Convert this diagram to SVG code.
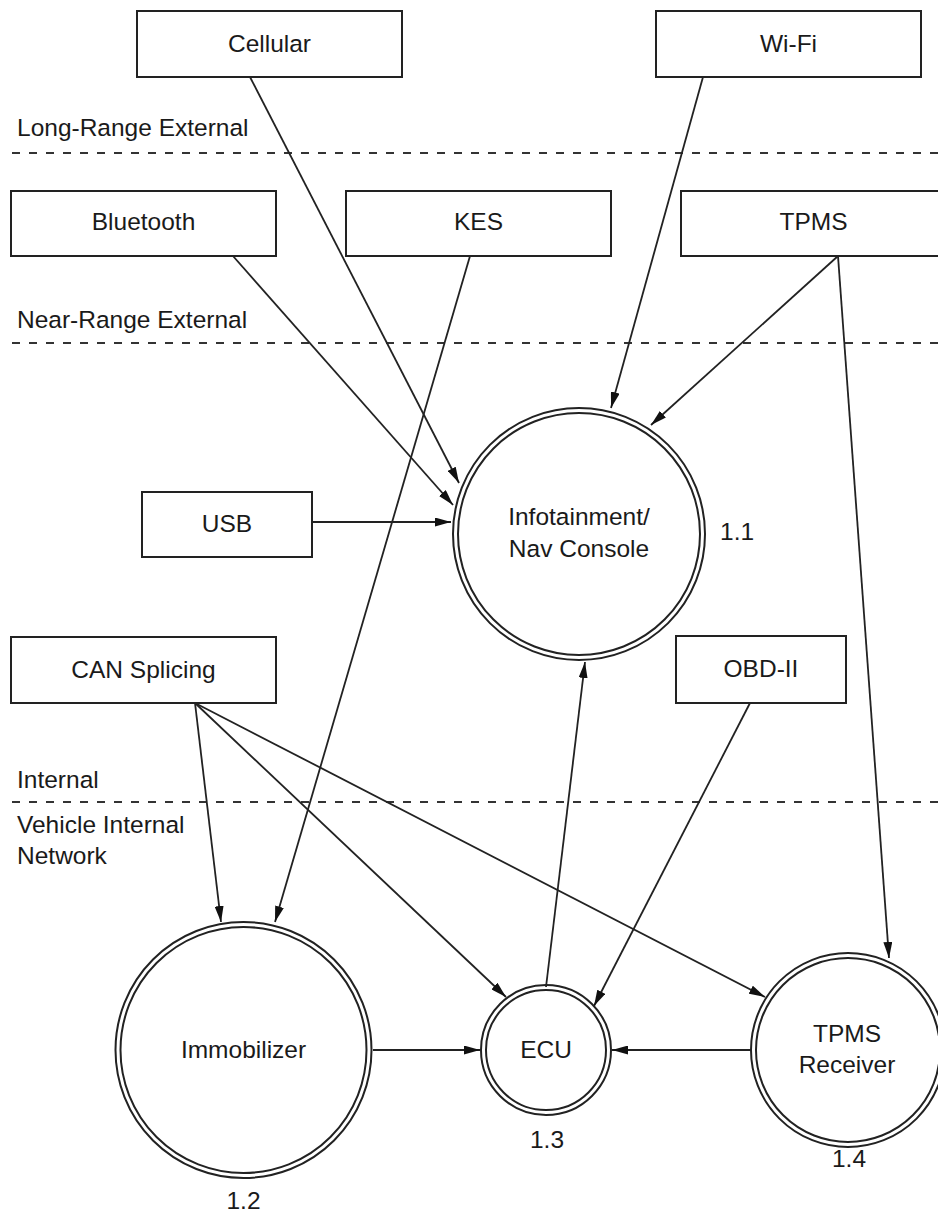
<svg xmlns="http://www.w3.org/2000/svg" width="938" height="1213" viewBox="0 0 938 1213">
<style>
  .box { fill: #fff; stroke: #222; stroke-width: 2; }
  .ring { fill: none; stroke: #222; stroke-width: 2; }
  .t { font-family: "Liberation Sans", Arial, sans-serif; font-size: 24.5px; fill: #1a1a1a; }
  .c { text-anchor: middle; }
  .dash { stroke: #333; stroke-width: 2.2; stroke-dasharray: 8 9; fill: none; }
  .conn line { stroke: #222; stroke-width: 1.8; marker-end: url(#arrow); }
</style>
<defs>
  <marker id="arrow" viewBox="0 0 16 9" refX="16" refY="4.5" markerWidth="16" markerHeight="9" markerUnits="userSpaceOnUse" orient="auto">
    <path d="M0,0 L16,4.5 L0,9 Z" fill="#111"/>
  </marker>
</defs>
<rect width="938" height="1213" fill="#fff"/>

<g id="zones">
  <line class="dash" x1="12" y1="153" x2="938" y2="153"/>
  <line class="dash" x1="12" y1="343" x2="938" y2="343"/>
  <line class="dash" x1="12" y1="802" x2="938" y2="802"/>
  <text class="t" x="17" y="136">Long-Range External</text>
  <text class="t" x="17" y="328">Near-Range External</text>
  <text class="t" x="17" y="788">Internal</text>
  <text class="t" x="17" y="833">Vehicle Internal</text>
  <text class="t" x="17" y="864">Network</text>
</g>

<g id="connectors" class="conn">
  <line x1="250" y1="77" x2="459" y2="483"/>
  <line x1="233" y1="256" x2="453" y2="505"/>
  <line x1="312" y1="522" x2="451" y2="522"/>
  <line x1="703" y1="77" x2="611" y2="408"/>
  <line x1="838" y1="256" x2="651" y2="425"/>
  <line x1="838" y1="256" x2="889" y2="958"/>
  <line x1="470" y1="256" x2="275" y2="922"/>
  <line x1="195" y1="703" x2="221" y2="922"/>
  <line x1="195" y1="703" x2="506" y2="997"/>
  <line x1="195" y1="703" x2="765" y2="997"/>
  <line x1="546" y1="987" x2="585" y2="662"/>
  <line x1="750" y1="703" x2="594" y2="1006"/>
  <line x1="373" y1="1050" x2="480" y2="1050"/>
  <line x1="751" y1="1050" x2="612" y2="1050"/>
</g>

<g id="cellular">
  <rect class="box" x="137" y="11" width="265" height="66"/>
  <text class="t c" x="269.5" y="52">Cellular</text>
</g>
<g id="wifi">
  <rect class="box" x="656" y="11" width="265" height="66"/>
  <text class="t c" x="788.5" y="52">Wi-Fi</text>
</g>
<g id="bluetooth">
  <rect class="box" x="11" y="191" width="265" height="65"/>
  <text class="t c" x="143.5" y="230">Bluetooth</text>
</g>
<g id="kes">
  <rect class="box" x="346" y="191" width="265" height="65"/>
  <text class="t c" x="478.5" y="230">KES</text>
</g>
<g id="tpms">
  <rect class="box" x="681" y="191" width="265" height="65"/>
  <text class="t c" x="813.5" y="230">TPMS</text>
</g>
<g id="usb">
  <rect class="box" x="142" y="492" width="170" height="65"/>
  <text class="t c" x="227" y="532">USB</text>
</g>
<g id="can-splicing">
  <rect class="box" x="11" y="637" width="265" height="66"/>
  <text class="t c" x="143.5" y="678">CAN Splicing</text>
</g>
<g id="obd-ii">
  <rect class="box" x="676" y="636" width="170" height="67"/>
  <text class="t c" x="761" y="677">OBD-II</text>
</g>

<g id="infotainment">
  <circle class="ring" cx="579" cy="534" r="126"/>
  <circle class="ring" cx="579" cy="534" r="121"/>
  <text class="t c" x="579" y="525">Infotainment/</text>
  <text class="t c" x="579" y="557">Nav Console</text>
  <text class="t" x="720" y="540">1.1</text>
</g>
<g id="immobilizer">
  <circle class="ring" cx="243.5" cy="1050" r="128"/>
  <circle class="ring" cx="243.5" cy="1050" r="123"/>
  <text class="t c" x="243.5" y="1058">Immobilizer</text>
  <text class="t c" x="243.5" y="1209">1.2</text>
</g>
<g id="ecu">
  <circle class="ring" cx="546" cy="1050" r="65"/>
  <circle class="ring" cx="546" cy="1050" r="60"/>
  <text class="t c" x="546" y="1058">ECU</text>
  <text class="t c" x="547" y="1148">1.3</text>
</g>
<g id="tpms-receiver">
  <circle class="ring" cx="848" cy="1050" r="97"/>
  <circle class="ring" cx="848" cy="1050" r="92"/>
  <text class="t c" x="847" y="1042">TPMS</text>
  <text class="t c" x="847" y="1073">Receiver</text>
  <text class="t c" x="849" y="1167">1.4</text>
</g>
</svg>
